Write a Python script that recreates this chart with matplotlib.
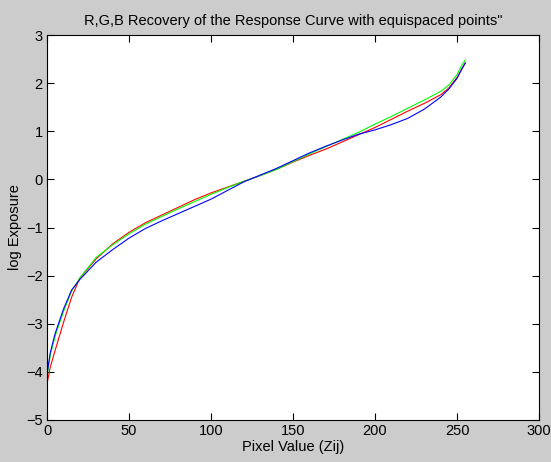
import matplotlib
matplotlib.use('Agg')
import matplotlib.pyplot as plt
import numpy as np

plt.rcParams['font.family'] = ['Liberation Sans', 'DejaVu Sans']

# pixel values
z = [0, 2, 5, 10, 15, 20, 30, 40, 50, 60, 70, 80, 90, 100, 110, 120, 130,
     140, 150, 160, 170, 180, 190, 200, 210, 220, 230, 240, 245, 250, 253, 255]

g_red = [-4.25, -3.9, -3.55, -2.98, -2.45, -2.05, -1.65, -1.34, -1.1, -0.9,
         -0.74, -0.58, -0.42, -0.28, -0.16, -0.04, 0.08, 0.21, 0.36, 0.5,
         0.63, 0.78, 0.93, 1.08, 1.25, 1.42, 1.58, 1.76, 1.9, 2.12, 2.3, 2.42]
g_green = [-4.1, -3.65, -3.25, -2.75, -2.32, -2.05, -1.62, -1.36, -1.13, -0.93,
           -0.77, -0.61, -0.46, -0.31, -0.17, -0.04, 0.08, 0.21, 0.37, 0.53,
           0.68, 0.83, 0.98, 1.15, 1.31, 1.48, 1.65, 1.83, 1.96, 2.18, 2.38, 2.48]
g_blue = [-4.05, -3.6, -3.2, -2.7, -2.3, -2.08, -1.72, -1.46, -1.22, -1.02,
          -0.86, -0.71, -0.56, -0.41, -0.23, -0.05, 0.09, 0.23, 0.39, 0.55, 0.69,
          0.82, 0.94, 1.03, 1.14, 1.27, 1.46, 1.71, 1.88, 2.1, 2.3, 2.42]

fig = plt.figure(figsize=(5.51, 4.62), dpi=100, facecolor='#cccccc')
ax = fig.add_axes([0.0853, 0.091, 0.893, 0.833])
ax.set_facecolor('white')

ax.plot(z, g_red, color='r', lw=0.8)
ax.plot(z, g_green, color='#00ff00', lw=0.8)
ax.plot(z, g_blue, color='b', lw=0.8)

ax.set_xlim(0, 300)
ax.set_ylim(-5, 3)
ax.set_xticks(np.arange(0, 301, 50))
ax.set_yticks(np.arange(-5, 4, 1))
ax.tick_params(direction='in', top=True, right=True, length=5, width=0.8,
               labelsize=10.5, colors='black', pad=3)
for s in ax.spines.values():
    s.set_linewidth(0.8)

ax.set_title('R,G,B Recovery of the Response Curve with equispaced points"',
             fontsize=10.5, pad=7)
ax.set_xlabel('Pixel Value (Zij)', fontsize=10.5, labelpad=1)
ax.set_ylabel('log Exposure', fontsize=10.5, labelpad=3)

fig.savefig('out.png', dpi=100, facecolor=fig.get_facecolor())
